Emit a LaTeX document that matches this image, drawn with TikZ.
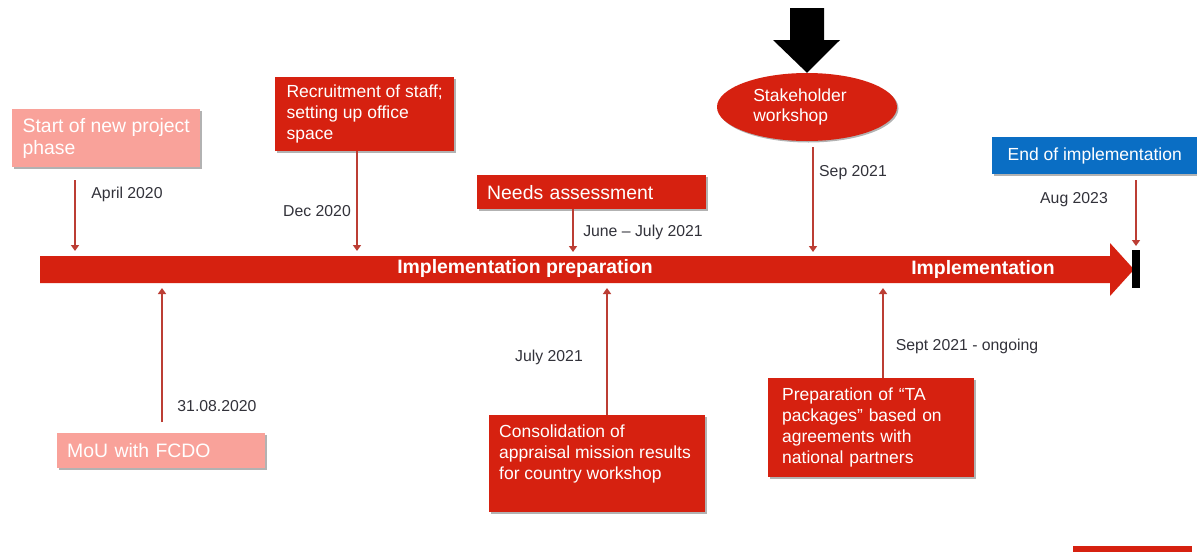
\documentclass[tikz,border=0pt]{standalone}
\usepackage{fontspec}
\setmainfont{Liberation Sans}
\usetikzlibrary{arrows.meta,shapes.geometric,shadows}
\definecolor{boxred}{RGB}{214,33,16}
\definecolor{palered}{RGB}{249,162,154}
\definecolor{impblue}{RGB}{10,110,196}
\definecolor{linered}{RGB}{188,62,52}
\definecolor{lblgray}{RGB}{50,50,58}
\begin{document}
\begin{tikzpicture}[x=1pt,y=-1pt,
  redbox/.style={rectangle, fill=boxred, text=white, align=left, inner sep=0pt,
    font=\fontsize{17.5}{21}\selectfont,
    drop shadow={shadow xshift=1.5pt, shadow yshift=-1.5pt, opacity=0.3, fill=black}},
  palebox/.style={redbox, fill=palered, font=\fontsize{19.4}{22}\selectfont},
  bluebox/.style={redbox, fill=impblue},
  lbl/.style={text=lblgray, inner sep=0pt, font=\fontsize{15.8}{19}\selectfont},
  bartext/.style={text=white, inner sep=0pt, font=\bfseries\fontsize{19.4}{22}\selectfont},
  conn/.style={draw=linered, line width=1.5pt, -{Triangle[width=8pt,length=6pt]}}]
\useasboundingbox (0,0) rectangle (1197,552);
\fill[white] (0,0) rectangle (1197,552);

% main timeline arrow
\fill[boxred] (40,256) -- (1110,256) -- (1110,243) -- (1134,269.5) -- (1110,296) -- (1110,283) -- (40,283) -- cycle;
\fill[black] (1132,250) rectangle (1140,288);
\node[bartext] (prep) at (525,268) {Implementation preparation};
\node[bartext] (impl) at (983,269) {Implementation};

% bar target points
\coordinate (t1) at (75,251);
\coordinate (t2) at (357,251);
\coordinate (t3) at (573,252);
\coordinate (t4) at (813,252);
\coordinate (t5) at (1136,246);
\coordinate (u1) at (162,288);
\coordinate (u2) at (607,288);
\coordinate (u3) at (883,288);

% boxes above
\node[palebox, minimum width=188pt, minimum height=58pt, anchor=north west] (start) at (12,109) {Start of new project\\phase};
\node[redbox, minimum width=179pt, minimum height=74pt, anchor=north west] (recruit) at (275,77) {Recruitment of staff;\\setting up office\\space};
\node[redbox, font=\fontsize{19.4}{22}\selectfont, minimum width=229pt, minimum height=34pt, text width=209pt, anchor=north west] (needs) at (477,175) {Needs assessment};
\node[ellipse, fill=boxred, text=white, align=left, inner sep=0pt, minimum width=180pt, minimum height=68pt,
  font=\fontsize{17.5}{20}\selectfont,
  drop shadow={shadow xshift=1.5pt, shadow yshift=-1.5pt, opacity=0.3, fill=black}] (stake) at (807,107) {Stakeholder\hspace*{14pt}\\workshop};
\node[bluebox, minimum width=205pt, minimum height=37pt, anchor=north west] (endimp) at (992,137) {End of implementation};

% big black arrow onto the workshop
\fill[black] (790,8) -- (824,8) -- (824,40) -- (840,40) -- (stake.north) -- (773,40) -- (790,40) -- cycle;

% boxes below
\node[palebox, minimum width=208pt, minimum height=35pt, text width=188pt, anchor=north west] (mou) at (57,433) {MoU with FCDO};
\node[redbox, minimum width=216pt, minimum height=97pt, anchor=north west] (consol) at (489,415)
  {\parbox[c][77pt][t]{196pt}{\raggedright Consolidation of\\appraisal mission results\\for country workshop}};
\node[redbox, minimum width=206pt, minimum height=99pt, text width=178pt, anchor=north west] (ta) at (768,378)
  {Preparation of “TA\\packages” based on\\agreements with\\national partners};

% partial box at the lower edge
\fill[boxred] (1073,546) rectangle (1192,552);

% connectors
\draw[conn, shorten <=13pt] (start.south -| t1) -- (t1);
\draw[conn] (recruit.south -| t2) -- (t2);
\draw[conn] (needs.south -| t3) -- (t3);
\draw[conn, shorten <=6pt] (stake.south -| t4) -- (t4);
\draw[conn, shorten <=6pt] (endimp.south -| t5) -- (t5);
\draw[conn, shorten <=11pt] (mou.north -| u1) -- (u1);
\draw[conn] (consol.north -| u2) -- (u2);
\draw[conn] (ta.north -| u3) -- (u3);

% date labels
\node[lbl] (l1) at (127,194) {April 2020};
\node[lbl] (l2) at (317,211) {Dec 2020};
\node[lbl] (l3) at (643,232) {June – July 2021};
\node[lbl] (l4) at (853,173) {Sep 2021};
\node[lbl] (l5) at (1074,200) {Aug 2023};
\node[lbl] (l6) at (217,406) {31.08.2020};
\node[lbl] (l7) at (549,357) {July 2021};
\node[lbl] (l8) at (967,346) {Sept 2021 - ongoing};
\end{tikzpicture}
\end{document}
